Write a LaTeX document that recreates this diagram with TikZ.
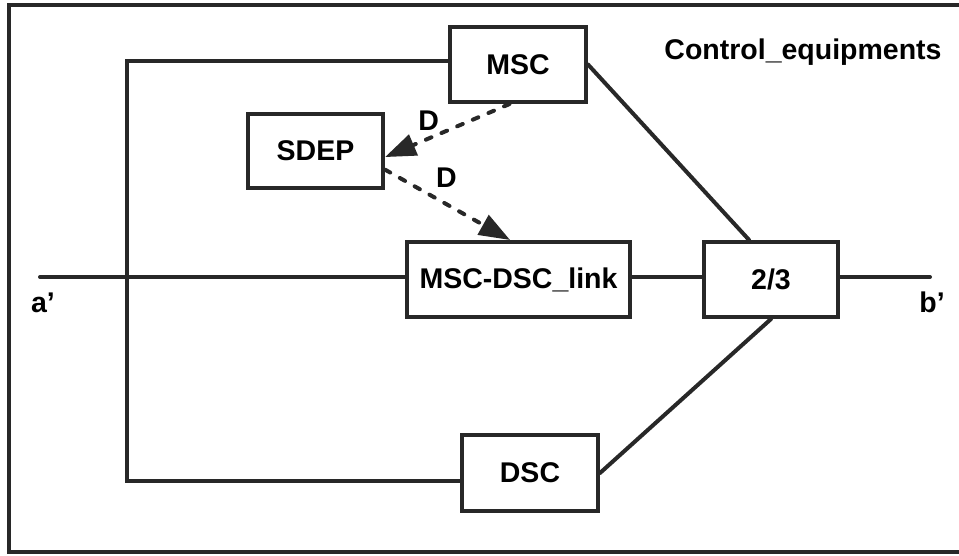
\documentclass[tikz,border=0pt]{standalone}
\usepackage{fontspec}
\setmainfont{Liberation Sans}
\usetikzlibrary{arrows.meta}
\definecolor{linegray}{RGB}{40,40,40}

\begin{document}
\begin{tikzpicture}[x=1pt, y=-1pt,
    unit/.style={draw=linegray, line width=4pt, minimum height=75pt, inner sep=0pt,
        font=\bfseries\fontsize{28.5}{34}\selectfont},
    wire/.style={draw=linegray, line width=4pt, line cap=round},
    dep/.style={draw=linegray, line width=4pt, dash pattern=on 6pt off 11pt, line cap=round,
        -{Triangle[length=31pt,width=22pt,fill=linegray]}},
    lbl/.style={inner sep=0pt, font=\bfseries\fontsize{28.5}{34}\selectfont}]
    \useasboundingbox (0,0) rectangle (959,555);

    % Frame (open on the right)
    \draw [draw=linegray, line width=4.5pt] (959,5) -- (9,5) -- (9,552) -- (959,552);
    \node [lbl, anchor=base] (title) at (803,59) {Control\_equipments};

    % Units
    \node [unit, minimum width=136pt] (MSC) at (518,64.5) {MSC};
    \node [unit, minimum width=135pt, minimum height=74pt] (SDEP) at (315.5,151) {SDEP};
    \node [unit, minimum width=223pt] (MSClink) at (518.5,279.5) {MSC-DSC\_link};
    \node [unit, minimum width=134pt] (vote) at (771,279.5) {2/3};
    \node [unit, minimum width=136pt, minimum height=76pt] (DSC) at (530,473) {DSC};

    % Main line a' -- b'
    \coordinate (a) at (40,277);
    \coordinate (b) at (930,277);
    \node [lbl, anchor=base] (alabel) at (43,312) {a’};
    \node [lbl, anchor=base] (blabel) at (932,312) {b’};
    \draw [wire] (a) -- (a -| MSClink.west);
    \draw [wire] (a -| MSClink.east) -- (a -| vote.west);
    \draw [wire] (a -| vote.east) -- (b);

    % Bus on the left
    \coordinate (bustop) at (127,61);
    \coordinate (busbot) at (127,481);
    \draw [wire, line cap=butt] (MSC.west |- bustop) -- (bustop) -- (busbot) -- (DSC.west |- busbot);

    % Controllers into the voter
    \draw [wire] (MSC.east) -- (vote.119);
    \draw [wire] (DSC.east) -- (vote.south);

    % Dependencies
    \draw [dep] (MSC.258) -- node [lbl, pos=0.65, above=6pt] (D1) {D} (SDEP.-5);
    \draw [dep] (SDEP.-15) -- node [lbl, pos=0.49, above=15pt] (D2) {D} (MSClink.102);
\end{tikzpicture}
\end{document}
